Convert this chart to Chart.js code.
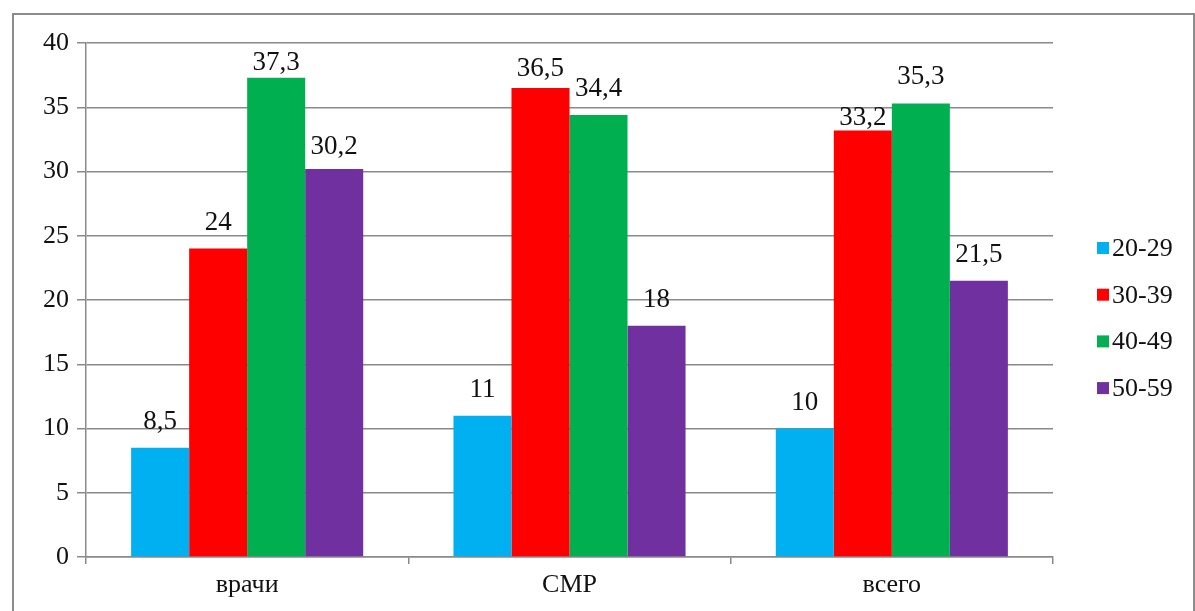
<!DOCTYPE html>
<html lang="ru">
<head>
<meta charset="utf-8">
<title>Возрастной состав</title>
<script src="https://cdn.jsdelivr.net/npm/chart.js@4/dist/chart.umd.min.js"></script>
<style>
  html, body { margin: 0; padding: 0; background: #fff; }
  .chart-box { position: relative; width: 1195px; height: 611px; }
</style>
</head>
<body>
<div class="chart-box">
  <canvas id="age-chart"></canvas>
</div>
<script>
// Categories and the share of each age group (%)
const categories = ['врачи', 'СМР', 'всего'];
const ageGroups = ['20-29', '30-39', '40-49', '50-59'];
const share2029 = [8.5, 11, 10];
const share3039 = [24, 36.5, 33.2];
const share4049 = [37.3, 34.4, 35.3];
const share5059 = [30.2, 18, 21.5];

const groupColors = ['#00b0f0', '#ff0000', '#00b050', '#7030a0'];
const serif = '"Liberation Serif", "Times New Roman", serif';
const gridGray = '#8a8a8a';
const textColor = '#111';

// Value labels above each bar, written with a decimal comma
const valueLabels = {
  id: 'valueLabels',
  afterDatasetsDraw(chart, args, opts) {
    const ctx = chart.ctx;
    ctx.save();
    ctx.font = `${opts.size}px ${serif}`;
    ctx.fillStyle = textColor;
    ctx.textAlign = 'center';
    ctx.textBaseline = 'alphabetic';
    chart.data.datasets.forEach((ds, di) => {
      chart.getDatasetMeta(di).data.forEach((bar, i) => {
        const gap = opts.gaps[`${di}:${i}`] ?? opts.gap;
        const text = String(ds.data[i]).replace('.', ',');
        ctx.fillText(text, bar.x, bar.y - gap);
      });
    });
    ctx.restore();
  }
};

// Legend on the right with small square markers
const sideLegend = {
  id: 'sideLegend',
  afterDraw(chart, args, opts) {
    const ctx = chart.ctx;
    ctx.save();
    ctx.font = `${opts.size}px ${serif}`;
    ctx.textBaseline = 'middle';
    chart.data.datasets.forEach((ds, i) => {
      const y = opts.top + i * opts.step;
      ctx.fillStyle = ds.backgroundColor;
      ctx.fillRect(opts.x, y - 6, 12, 12);
      ctx.fillStyle = textColor;
      ctx.fillText(ds.label, opts.x + 15, y + 1);
    });
    ctx.restore();
  }
};

// Thin frame round the whole chart
const frame = {
  id: 'frame',
  afterDraw(chart) {
    const ctx = chart.ctx;
    ctx.save();
    ctx.strokeStyle = '#8c8c8c';
    ctx.lineWidth = 2;
    ctx.beginPath();
    ctx.moveTo(13, chart.height);
    ctx.lineTo(13, 14);
    ctx.lineTo(chart.width - 1, 14);
    ctx.lineTo(chart.width - 1, chart.height);
    ctx.stroke();
    ctx.restore();
  }
};

const seriesValues = [share2029, share3039, share4049, share5059];

new Chart(document.getElementById('age-chart'), {
  type: 'bar',
  data: {
    labels: categories,
    datasets: ageGroups.map((label, i) => ({
      label: label,
      data: seriesValues[i],
      backgroundColor: groupColors[i],
      borderWidth: 0,
      categoryPercentage: 0.72,
      barPercentage: 1.0
    }))
  },
  options: {
    responsive: true,
    maintainAspectRatio: false,
    animation: false,
    layout: {
      padding: { left: 0, top: 43, right: 142, bottom: 0 }
    },
    scales: {
      x: {
        afterFit(scale) { scale.height = 54; },
        grid: {
          drawOnChartArea: false,
          drawTicks: true,
          tickLength: 7,
          color: gridGray,
          lineWidth: 1.5
        },
        border: { color: gridGray, width: 1.5 },
        ticks: {
          color: textColor,
          padding: 6,
          font: { family: serif, size: 26 }
        }
      },
      y: {
        min: 0,
        max: 40,
        afterFit(scale) { scale.width = 86; },
        grid: {
          color: gridGray,
          lineWidth: 1.5,
          tickLength: 9
        },
        border: { color: gridGray, width: 1.5 },
        ticks: {
          stepSize: 5,
          color: textColor,
          padding: 8,
          font: { family: serif, size: 26 }
        }
      }
    },
    plugins: {
      legend: { display: false },
      tooltip: { enabled: false },
      valueLabels: {
        size: 27,
        gap: 19,
        gaps: { '2:0': 8, '1:1': 12, '1:2': 5, '3:0': 15 }
      },
      sideLegend: { x: 1097, top: 248, step: 46.7, size: 26 }
    }
  },
  plugins: [valueLabels, sideLegend, frame]
});
</script>
</body>
</html>
